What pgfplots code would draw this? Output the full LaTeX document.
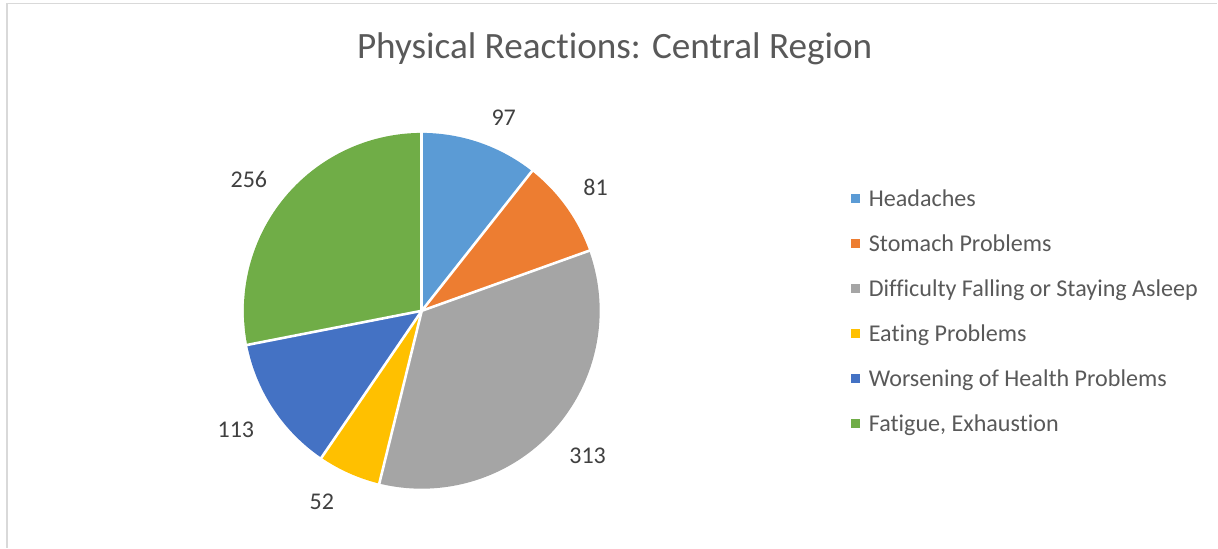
\documentclass[border=0pt]{standalone}
\usepackage{pgfplots}
\pgfplotsset{compat=1.18}
\usepackage{fontspec}
\setmainfont{Carlito}[Ligatures={NoCommon},RawFeature={-liga;-calt;-dlig}]
\usetikzlibrary{calc}
\definecolor{c1}{HTML}{5B9BD5}
\definecolor{c2}{HTML}{ED7D31}
\definecolor{c3}{HTML}{A5A5A5}
\definecolor{c4}{HTML}{FFC000}
\definecolor{c5}{HTML}{4472C4}
\definecolor{c6}{HTML}{70AD47}
\definecolor{titlegray}{HTML}{595959}
\definecolor{labgray}{HTML}{404040}
\definecolor{bordergray}{HTML}{D9D9D9}
\begin{document}
\begin{tikzpicture}
\begin{axis}[x=0.5pt,y=0.5pt,xmin=0,xmax=1218,ymin=0,ymax=548,
  hide axis,clip=false,scale only axis]
\addplot[draw=none,forget plot] coordinates {(0,0) (1218,548)};
\pgfplotsextra{
  \path (axis cs:0,0) rectangle (axis cs:1218,548);
  \draw[bordergray,line width=0.75pt] (axis cs:7,0) -- (axis cs:7,544.5) -- (axis cs:1218,544.5);
  \node[anchor=base,text=titlegray,font=\fontsize{18.6}{22}\selectfont] at (axis cs:615,489) {Physical React\kern0pt ions: Central Region};
  % total
  \xdef\tot{0}
  \foreach \v in {97,81,313,52,113,256}{\pgfmathsetmacro\t{\tot+\v}\xdef\tot{\t}}
  \xdef\cum{90}
  \foreach \v/\col/\lx/\lyy/\nm [count=\i] in {97/c1/504/430/Headaches,81/c2/596/360/Stomach Problems,313/c3/588/92/Difficulty Falling or Staying Asleep,52/c4/322/46/Eating Problems,113/c5/236/118/Worsening of Health Problems,256/c6/249/368/{Fatigue, Exhaust\kern0pt ion}}{
    \pgfmathsetmacro\a{\cum}
    \pgfmathsetmacro\b{\cum-\v/\tot*360}
    \fill[\col] (axis cs:422,237) -- +(\a:89pt) arc[start angle=\a,end angle=\b,radius=89pt] -- cycle;
    \node[text=labgray,font=\fontsize{12}{14}\selectfont] at (axis cs:\lx,\lyy) {\v};
    \pgfmathsetmacro\ly{548-199-45*(\i-1)}
    \pgfmathsetmacro\by{548-207-45*(\i-1)}
    \fill[\col] ($(axis cs:852,\ly)+(0,-2.25pt)$) rectangle +(4.5pt,4.5pt);
    \node[anchor=base west,inner sep=0pt,text=titlegray,font=\fontsize{12.05}{14}\selectfont] at (axis cs:869,\by) {\nm};
    \xdef\cum{\b}
  }
  \xdef\cum{90}
  \foreach \v in {97,81,313,52,113,256}{
    \pgfmathsetmacro\a{\cum}
    \pgfmathsetmacro\b{\cum-\v/\tot*360}
    \draw[white,line width=1.3pt] (axis cs:422,237) -- +(\a:89.5pt);
    \xdef\cum{\b}
  }
}
\end{axis}
\end{tikzpicture}
\end{document}
